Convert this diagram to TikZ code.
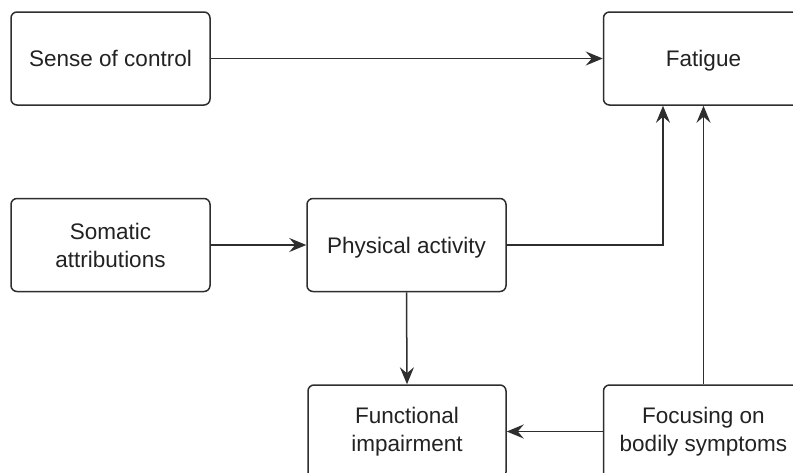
\documentclass[tikz,border=0pt]{standalone}
\usepackage{fontspec}
\setmainfont{Liberation Sans}
\usetikzlibrary{arrows.meta}
\definecolor{linec}{HTML}{2E2E2E}
\definecolor{textc}{HTML}{222222}
\tikzset{
  box/.style={draw=linec, line width=1.5pt, rounded corners=6pt, fill=white,
    minimum height=93pt, text=textc,
    font=\fontsize{22.5}{28}\selectfont, inner sep=2pt},
  multi/.style={box, align=center},
  oneline/.style={box, text height=16.1pt, text depth=0pt},
  conn/.style={draw=linec, line width=1.5pt, -{Stealth[length=17pt,width=14pt,inset=6pt]}}
}
\begin{document}
\begin{tikzpicture}[x=1pt,y=-1pt]
\useasboundingbox (0,0) rectangle (793,472);
\clip (0,0) rectangle (793,472);
\fill[white] (0,0) rectangle (793,472);
\node[oneline, minimum width=199pt] (soc) at (110.5,58.5) {Sense of control};
\node[oneline, minimum width=200pt] (fat) at (703.5,58.5) {Fatigue};
\node[multi, minimum width=199pt] (som) at (110.5,245) {Somatic\\attributions};
\node[oneline, minimum width=199pt] (pa) at (406.5,245) {Physical activity};
\node[multi, minimum width=198pt] (fi) at (407,431.5) {Functional\\impairment};
\node[multi, minimum width=200pt] (fb) at (703.5,431.5) {Focusing on\\bodily symptoms};
\coordinate (fatin) at ([xshift=-40.5pt]fat.south);
\draw[conn] (soc.east) -- (fat.west);
\draw[conn] (som.east) -- (pa.west);
\draw[conn] (pa.east) -| (fatin);
\draw[conn] (fb.north) -- (fat.south);
\draw[conn] (pa.south) -- (fi.north);
\draw[conn] (fb.west) -- (fi.east);
\end{tikzpicture}
\end{document}
